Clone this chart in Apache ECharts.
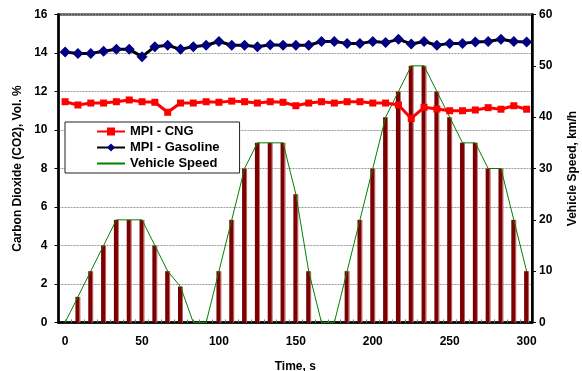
<!DOCTYPE html>
<html>
<head>
<meta charset="utf-8">
<script src="https://cdn.jsdelivr.net/npm/echarts@6/dist/echarts.min.js"></script>
<style>html,body{margin:0;padding:0;background:#fff}#c{width:582px;height:371px}</style>
</head>
<body>
<div id="c"></div>
<script>
const times = [0,8.33,16.67,25,33.33,41.67,50,58.33,66.67,75,83.33,91.67,100,108.33,116.67,125,133.33,141.67,150,158.33,166.67,175,183.33,191.67,200,208.33,216.67,225,233.33,241.67,250,258.33,266.67,275,283.33,291.67,300];
const speed = [0,5,10,15,20,20,20,15,10,7,0,0,10,20,30,35,35,35,25,10,0,0,10,20,30,40,45,50,50,45,40,35,35,30,30,20,10];
const cng = [11.47,11.3,11.4,11.4,11.47,11.56,11.47,11.44,10.92,11.4,11.4,11.47,11.44,11.5,11.47,11.4,11.47,11.44,11.26,11.4,11.47,11.4,11.47,11.47,11.4,11.4,11.3,10.6,11.18,11.09,11.0,11.0,11.04,11.16,11.08,11.26,11.08];
const gasoline = [14.05,13.97,13.98,14.09,14.19,14.19,13.81,14.33,14.4,14.19,14.33,14.4,14.6,14.4,14.4,14.33,14.43,14.4,14.4,14.4,14.6,14.6,14.5,14.5,14.6,14.54,14.71,14.47,14.6,14.4,14.5,14.5,14.57,14.6,14.71,14.6,14.57];
const xTicks = [0,50,100,150,200,250,300];
const minorTicks = [];
for (let k = 0; k <= 72; k++) minorTicks.push(k * 300 / 72);
const seriesNames = ['MPI - CNG', 'MPI - Gasoline', 'Vehicle Speed'];

const pair = (xs, ys) => xs.map((x, i) => [x, ys[i]]);
const font = '"Liberation Sans", Arial, sans-serif';
const chart = echarts.init(document.getElementById('c'), null, {renderer: 'canvas'});
chart.setOption({
  animation: false,
  grid: {left: 58.5, right: 50, top: 14.5, bottom: 48.5, outerBoundsMode: 'none', containLabel: false,
         show: true, borderColor: '#000', borderWidth: 2, backgroundColor: 'transparent'},
  legend: {
    data: [
      {name: seriesNames[0]},
      {name: seriesNames[1]},
      {name: seriesNames[2], itemStyle: {opacity: 0}}
    ],
    orient: 'vertical', left: 65, top: 122,
    backgroundColor: '#fff', borderColor: '#222', borderWidth: 1,
    padding: [3, 20, 3, 31], itemGap: 3, itemWidth: 28, itemHeight: 10,
    textStyle: {fontFamily: font, fontWeight: 'bold', fontSize: 13, color: '#000'}
  },
  xAxis: {
    type: 'value', min: -4.3, max: 303.5,
    name: 'Time, s', nameLocation: 'middle', nameGap: 38,
    nameTextStyle: {fontFamily: font, fontWeight: 'bold', fontSize: 12, color: '#000'},
    axisLine: {show: true, lineStyle: {color: '#000', width: 2.5}},
    axisTick: {show: true, inside: true, length: 3, lineStyle: {color: '#777'}, customValues: minorTicks},
    axisLabel: {fontFamily: font, fontWeight: 'bold', fontSize: 12, color: '#000', margin: 13, customValues: xTicks},
    splitLine: {show: false}
  },
  yAxis: [{
    type: 'value', min: 0, max: 16, interval: 2, position: 'left',
    name: 'Carbon Dioxide (CO2), Vol. %', nameLocation: 'middle', nameGap: 32,
    nameTextStyle: {fontFamily: font, fontWeight: 'bold', fontSize: 12, color: '#000'},
    axisLine: {show: true, onZero: false, lineStyle: {color: '#000', width: 2.5}},
    axisTick: {show: true, length: 4, lineStyle: {color: '#000'}},
    axisLabel: {fontFamily: font, fontWeight: 'bold', fontSize: 12, color: '#000', margin: 11},
    splitLine: {show: true, lineStyle: {color: '#999', type: [2, 1], width: 1}}
  }, {
    type: 'value', min: 0, max: 60, interval: 10, position: 'right',
    name: 'Vehicle Speed, km/h', nameLocation: 'middle', nameGap: 35,
    nameTextStyle: {fontFamily: font, fontWeight: 'bold', fontSize: 12, color: '#000'},
    axisLine: {show: true, onZero: false, lineStyle: {color: '#000', width: 2.5}},
    axisTick: {show: true, length: 4, lineStyle: {color: '#000'}},
    axisLabel: {fontFamily: font, fontWeight: 'bold', fontSize: 12, color: '#000', margin: 7},
    splitLine: {show: false}
  }],
  series: [{
    name: 'Speed bars', type: 'bar', yAxisIndex: 1, barWidth: 5, z: 1,
    itemStyle: {color: new echarts.graphic.LinearGradient(0, 0, 1, 0, [
      {offset: 0, color: '#7a0000'}, {offset: 0.72, color: '#800000'}, {offset: 0.78, color: '#b05858'}, {offset: 1, color: '#c07070'}])},
    data: pair(times, speed)
  }, {
    name: 'Vehicle Speed', type: 'line', yAxisIndex: 1, z: 2,
    symbol: 'none', lineStyle: {color: '#008000', width: 1}, itemStyle: {color: '#008000'},
    data: pair(times, speed)
  }, {
    name: 'MPI - CNG', type: 'line', yAxisIndex: 0, z: 3,
    symbol: 'rect', symbolSize: 7,
    lineStyle: {color: '#ff0000', width: 3}, itemStyle: {color: '#ff0000'},
    data: pair(times, cng)
  }, {
    name: 'MPI - Gasoline', type: 'line', yAxisIndex: 0, z: 4,
    symbol: 'diamond', symbolSize: 11,
    lineStyle: {color: '#000', width: 3}, itemStyle: {color: '#000080'},
    data: pair(times, gasoline)
  }]
});
</script>
</body>
</html>
